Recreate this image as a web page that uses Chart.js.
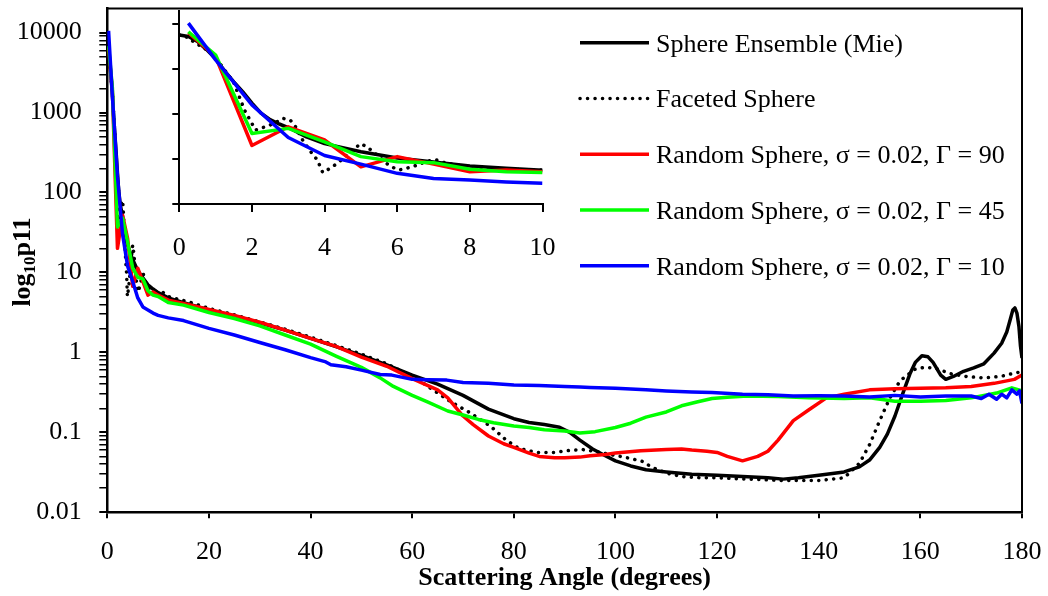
<!DOCTYPE html>
<html>
<head>
<meta charset="utf-8">
<script src="https://cdn.jsdelivr.net/npm/chart.js@4/dist/chart.umd.min.js"></script>
<style>
  html, body { margin: 0; padding: 0; background: #fff; }
  #wrap { position: relative; width: 1048px; height: 596px; }
  #mainChart { position: absolute; left: 0; top: 0; }
  #insetChart { position: absolute; left: 120px; top: 0; }
</style>
</head>
<body>
<div id="wrap">
  <canvas id="mainChart" width="1048" height="596"></canvas>
  <canvas id="insetChart" width="440" height="275"></canvas>
</div>
<script>
// ---- data ----

const seriesLabels = [
  'Sphere Ensemble (Mie)',
  'Faceted Sphere',
  'Random Sphere, σ = 0.02, Γ = 90',
  'Random Sphere, σ = 0.02, Γ = 45',
  'Random Sphere, σ = 0.02, Γ = 10'
];

const mieAngles = [0, 0.25, 0.5, 0.75, 1, 1.25, 1.5, 1.75, 2, 2.25, 2.5, 2.75, 3, 3.5, 4, 5, 6, 7, 8, 9, 10,
  12, 15, 20, 25, 30, 35, 40, 45, 50, 55, 60, 65, 70, 75, 80, 83, 86, 89, 91, 93, 95.5, 98, 100, 103, 106,
  110, 115, 120, 125, 130, 133, 136, 140, 145, 148, 150, 152, 153.5, 155, 156.5, 158, 159, 160.3, 161.5,
  162.5, 164, 165, 166.5, 168.5, 170.5, 172.5, 174.5, 176, 177, 177.7, 178.2, 178.6, 179, 179.4, 179.7, 180];
const mieValues = [5700, 5300, 4100, 2700, 1700, 900, 520, 310, 175, 105, 75, 60, 50, 31, 22, 14.5, 10.5, 8.6, 7.0, 6.2, 5.6,
  4.8, 4.2, 3.4, 2.85, 2.35, 1.9, 1.5, 1.18, 0.92, 0.70, 0.52, 0.40, 0.29, 0.195, 0.148, 0.133, 0.125, 0.116, 0.1, 0.08, 0.062, 0.051, 0.044, 0.038, 0.034,
  0.032, 0.030, 0.029, 0.028, 0.027, 0.026, 0.027, 0.029, 0.032, 0.037, 0.045, 0.065, 0.095, 0.16, 0.30, 0.55, 0.75, 0.91, 0.88,
  0.75, 0.52, 0.46, 0.50, 0.58, 0.64, 0.72, 0.98, 1.3, 1.8, 2.6, 3.4, 3.6, 3.1, 2.1, 1.2, 0.85];

const facetAngles = [0, 0.25, 0.45, 0.65, 1, 1.5, 1.8, 2.1, 2.3, 2.5, 2.7, 2.85, 3.05, 3.2, 3.4, 3.65, 3.8, 3.95,
  4.15, 4.35, 4.6, 4.85, 5.0, 5.2, 5.5, 5.7, 5.9, 6.05, 6.25, 6.5, 6.7, 6.9, 7.1, 7.3, 7.6, 8, 8.5, 9, 10,
  11, 12, 14, 16, 18, 20, 25, 30, 35, 40, 45, 50, 55, 60, 62, 63.5, 67.5, 71.5, 75.5, 78.5, 81, 84.5, 88, 90.5,
  93.5, 96.5, 99.5, 101, 103, 105.5, 107, 110, 113, 117, 120, 126, 133, 140, 145, 148, 150, 152, 154, 156,
  158.8, 160.8, 162.7, 166, 169, 172.5, 175.8, 179, 180];
const facetValues = [5700, 5000, 3700, 3100, 1800, 500, 120, 44, 50, 57, 68, 80, 74, 52, 26, 13.4, 9.5, 5.0,
  6.2, 8.0, 12, 17.8, 22, 17.8, 11.3, 8.0, 6.4, 5.7, 6.2, 7.1, 8.2, 9.2, 9.5, 8.3, 7.4, 6.7, 6.2, 5.9, 5.7,
  5.6, 5.0, 4.6, 4.3, 3.9, 3.55, 2.95, 2.4, 1.95, 1.55, 1.22, 0.95, 0.72, 0.50, 0.42, 0.36, 0.243, 0.174, 0.118, 0.080, 0.063, 0.056, 0.056, 0.059,
  0.061, 0.057, 0.052, 0.050, 0.047, 0.043, 0.037, 0.031, 0.028, 0.027, 0.027, 0.026, 0.025, 0.025, 0.027, 0.041, 0.07, 0.14, 0.27, 0.44,
  0.61, 0.65, 0.64, 0.54, 0.50, 0.48, 0.50, 0.56, 0.57];

const g90Angles = [0.25, 1, 2, 3, 4, 5, 6, 7, 8, 9, 10, 12, 15, 20, 25, 30, 35, 40, 45, 50, 55, 60, 65, 67, 70, 72,
  75, 78, 80, 83, 85, 88, 90, 93, 95, 98, 100, 105, 110, 113, 115, 118, 120, 122, 125, 128, 130, 132, 135, 138,
  141.5, 145, 150, 155, 160, 165, 170, 174.5, 178.5, 180];
const g90Values = [6400, 1870, 20, 52, 26.5, 6.7, 11.3, 7.7, 5.2, 5.7, 5.2, 4.5, 4.1, 3.45, 2.9, 2.38, 1.9, 1.5, 1.19, 0.875, 0.67, 0.47, 0.34, 0.27, 0.16, 0.125,
  0.09, 0.072, 0.065, 0.055, 0.05, 0.048, 0.048, 0.049, 0.051, 0.053, 0.055, 0.059, 0.061, 0.062, 0.060, 0.058, 0.056, 0.050, 0.044, 0.050, 0.058, 0.08, 0.14, 0.19,
  0.27, 0.30, 0.34, 0.35, 0.355, 0.36, 0.375, 0.41, 0.46, 0.52];

const g45Angles = [0.25, 1, 2, 3, 4, 5, 6, 7, 8, 9, 10, 12, 15, 20, 25, 30, 35, 40, 45, 50, 53.7, 56.3, 60, 63, 67,
  70, 73, 76, 80, 83, 86, 90, 93, 96, 100, 103, 106, 110, 113, 116, 119, 122, 126, 132, 138, 145, 150, 155,
  160, 165, 170, 175, 178, 180];
const g45Values = [6750, 2040, 37, 48, 24, 11.3, 8.7, 8.3, 5.9, 5.2, 5.0, 4.2, 3.9, 3.15, 2.65, 2.15, 1.65, 1.27, 0.9, 0.65, 0.48, 0.375, 0.29, 0.24, 0.185,
  0.165, 0.145, 0.132, 0.12, 0.115, 0.108, 0.104, 0.098, 0.102, 0.115, 0.13, 0.155, 0.18, 0.215, 0.24, 0.265, 0.275, 0.285, 0.28, 0.27, 0.265, 0.27, 0.245,
  0.245, 0.25, 0.27, 0.31, 0.36, 0.33];

const g10Angles = [0.25, 1, 2, 3, 4, 5, 6, 7, 8, 9, 10, 12, 15, 20, 25, 30, 35, 40, 43, 44, 47, 50, 53.7, 56, 60,
  63, 66.8, 70, 75, 80, 85, 90, 93, 95, 100, 106, 110, 115, 119, 125, 130, 135, 140, 145, 150, 155, 160, 165,
  170, 172, 173.5, 175, 176, 177, 178, 179, 179.5, 180];
const g10Values = [10500, 1600, 160, 30, 12, 7.7, 4.8, 3.7, 3.4, 3.1, 2.9, 2.7, 2.5, 2.0, 1.65, 1.33, 1.08, 0.86, 0.76, 0.70, 0.66, 0.60, 0.53, 0.52, 0.46,
  0.455, 0.45, 0.42, 0.41, 0.39, 0.385, 0.375, 0.37, 0.365, 0.357, 0.34, 0.33, 0.32, 0.315, 0.30, 0.295, 0.285, 0.286, 0.285, 0.276, 0.29, 0.276, 0.285,
  0.285, 0.265, 0.30, 0.26, 0.30, 0.27, 0.34, 0.30, 0.33, 0.23];

const seriesAngles = [mieAngles, facetAngles, g90Angles, g45Angles, g10Angles];
const seriesValues = [mieValues, facetValues, g90Values, g45Values, g10Values];

// axes
const xTicks = [0, 20, 40, 60, 80, 100, 120, 140, 160, 180];
const yDecades = [0.01, 0.1, 1, 10, 100, 1000, 10000];
const yTickLabels = ['0.01', '0.1', '1', '10', '100', '1000', '10000'];
const insetXTicks = [0, 2, 4, 6, 8, 10];
const insetYTicks = [1, 10, 100, 1000, 10000];
const xTitle = 'Scattering Angle (degrees)';

// ---- styles ----
const serif = "'Liberation Serif', 'Times New Roman', serif";
const seriesColors = ['#000000', '#000000', '#ff0000', '#00ff00', '#0000ff'];
const seriesDash = [[], [0.1, 7.4], [], [], []];
const lineW = 3.5;

function makeDatasets() {
  return seriesLabels.map((label, i) => ({
    label: label,
    data: seriesAngles[i].map((a, j) => ({ x: a, y: seriesValues[i][j] })),
    borderColor: seriesColors[i],
    borderWidth: lineW,
    borderDash: seriesDash[i],
    borderCapStyle: i === 1 ? 'round' : 'butt',
    borderJoinStyle: 'round',
    pointRadius: 0,
    tension: 0,
    fill: false,
    order: seriesLabels.length - i
  }));
}

// log minor ticks 1..9 per decade
function logTicks() {
  const out = [];
  yDecades.forEach((d, k) => {
    const steps = k === yDecades.length - 1 ? 1 : 9;
    for (let m = 1; m <= steps; m++) out.push({ value: d * m });
  });
  return out;
}

function isDecade(v) {
  return yDecades.some(d => Math.abs(d - v) < d * 1e-6);
}

// top and right frame of the plot area
const framePlugin = {
  id: 'frame',
  afterDraw(chart) {
    const { ctx, chartArea: a } = chart;
    ctx.save();
    ctx.strokeStyle = '#000';
    ctx.lineWidth = 2;
    ctx.beginPath();
    ctx.moveTo(a.left, a.top);
    ctx.lineTo(a.right, a.top);
    ctx.lineTo(a.right, a.bottom);
    ctx.stroke();
    ctx.restore();
  }
};

// legend on the right
const legendPlugin = {
  id: 'sideLegend',
  afterDraw(chart) {
    const ctx = chart.ctx;
    ctx.save();
    ctx.font = '26px ' + serif;
    ctx.textBaseline = 'middle';
    ctx.fillStyle = '#000';
    seriesLabels.forEach((label, i) => {
      const y = 42.7 + i * 55.75;
      ctx.beginPath();
      ctx.strokeStyle = seriesColors[i];
      ctx.lineWidth = lineW;
      ctx.setLineDash(seriesDash[i]);
      ctx.lineCap = i === 1 ? 'round' : 'butt';
      ctx.moveTo(580, y);
      ctx.lineTo(649, y);
      ctx.stroke();
      ctx.setLineDash([]);
      ctx.fillText(label, 656, y + 2);
    });
    ctx.restore();
  }
};

// rotated y title with subscript
const yTitlePlugin = {
  id: 'yTitle',
  afterDraw(chart) {
    const ctx = chart.ctx;
    const big = 'bold 26px ' + serif;
    const small = 'bold 17px ' + serif;
    ctx.save();
    ctx.translate(30, 262);
    ctx.rotate(-Math.PI / 2);
    ctx.fillStyle = '#000';
    ctx.textBaseline = 'alphabetic';
    ctx.font = big;
    const w1 = ctx.measureText('log').width;
    const w3 = ctx.measureText('p11').width;
    ctx.font = small;
    const w2 = ctx.measureText('10').width;
    let x = -(w1 + w2 + w3) / 2;
    ctx.font = big;
    ctx.fillText('log', x, 0);
    x += w1;
    ctx.font = small;
    ctx.fillText('10', x, 5);
    x += w2;
    ctx.font = big;
    ctx.fillText('p11', x, 0);
    ctx.restore();
  }
};

new Chart(document.getElementById('mainChart'), {
  type: 'line',
  data: { datasets: makeDatasets() },
  options: {
    responsive: false,
    animation: false,
    layout: { padding: { left: 0, top: 8.5, right: 26, bottom: 0 } },
    plugins: { legend: { display: false }, tooltip: { enabled: false } },
    scales: {
      x: {
        type: 'linear',
        min: 0,
        max: 180,
        afterBuildTicks: s => { s.ticks = xTicks.map(v => ({ value: v })); },
        afterFit: s => { s.height = 596 - 512.3; s.paddingLeft = 0; s.paddingRight = 0; },
        grid: { drawOnChartArea: false, drawTicks: true, tickLength: 6, color: '#000', lineWidth: 2 },
        border: { display: true, color: '#000', width: 2.5 },
        ticks: { color: '#000', font: { family: serif, size: 26 }, padding: 18, maxRotation: 0, autoSkip: false },
        title: {
          display: true, text: xTitle, color: '#000',
          font: { family: serif, size: 26, weight: 'bold' },
          padding: { top: 0, bottom: 2 }
        }
      },
      y: {
        type: 'logarithmic',
        min: 0.01,
        max: 20000,
        afterBuildTicks: s => { s.ticks = logTicks(); },
        afterFit: s => { s.width = 107.3; s.paddingTop = 0; s.paddingBottom = 0; },
        grid: {
          drawOnChartArea: false, drawTicks: true, tickLength: 8, color: '#000',
          lineWidth: c => (c.tick && isDecade(c.tick.value)) ? 2 : 1.5
        },
        border: { display: true, color: '#000', width: 2.5 },
        ticks: {
          color: '#000', font: { family: serif, size: 26 }, padding: 17.6, autoSkip: false,
          callback: value => {
            const k = yDecades.findIndex(d => Math.abs(d - value) < d * 1e-6);
            return k >= 0 ? yTickLabels[k] : '';
          }
        }
      }
    }
  },
  plugins: [framePlugin, legendPlugin, yTitlePlugin]
});

// inset: same data, first 10 degrees
new Chart(document.getElementById('insetChart'), {
  type: 'line',
  data: { datasets: makeDatasets() },
  options: {
    responsive: false,
    animation: false,
    layout: { padding: { left: 0, top: 10.5, right: 17.5, bottom: 0 } },
    plugins: { legend: { display: false }, tooltip: { enabled: false } },
    scales: {
      x: {
        type: 'linear',
        min: 0,
        max: 10,
        afterBuildTicks: s => { s.ticks = insetXTicks.map(v => ({ value: v })); },
        afterFit: s => { s.height = 275 - 204; s.paddingLeft = 0; s.paddingRight = 0; },
        grid: { drawOnChartArea: false, drawTicks: true, tickLength: 8, color: '#000', lineWidth: 2 },
        border: { display: true, color: '#000', width: 2 },
        ticks: { color: '#000', font: { family: serif, size: 26 }, padding: 21, maxRotation: 0, autoSkip: false }
      },
      y: {
        type: 'logarithmic',
        min: 1,
        max: 20000,
        afterBuildTicks: s => { s.ticks = insetYTicks.map(v => ({ value: v })); },
        afterFit: s => { s.width = 59.3; s.paddingTop = 0; s.paddingBottom = 0; },
        grid: { drawOnChartArea: false, drawTicks: true, tickLength: 7, color: '#000', lineWidth: 2 },
        border: { display: true, color: '#000', width: 2 },
        ticks: { display: false }
      }
    }
  }
});
</script>
</body>
</html>
